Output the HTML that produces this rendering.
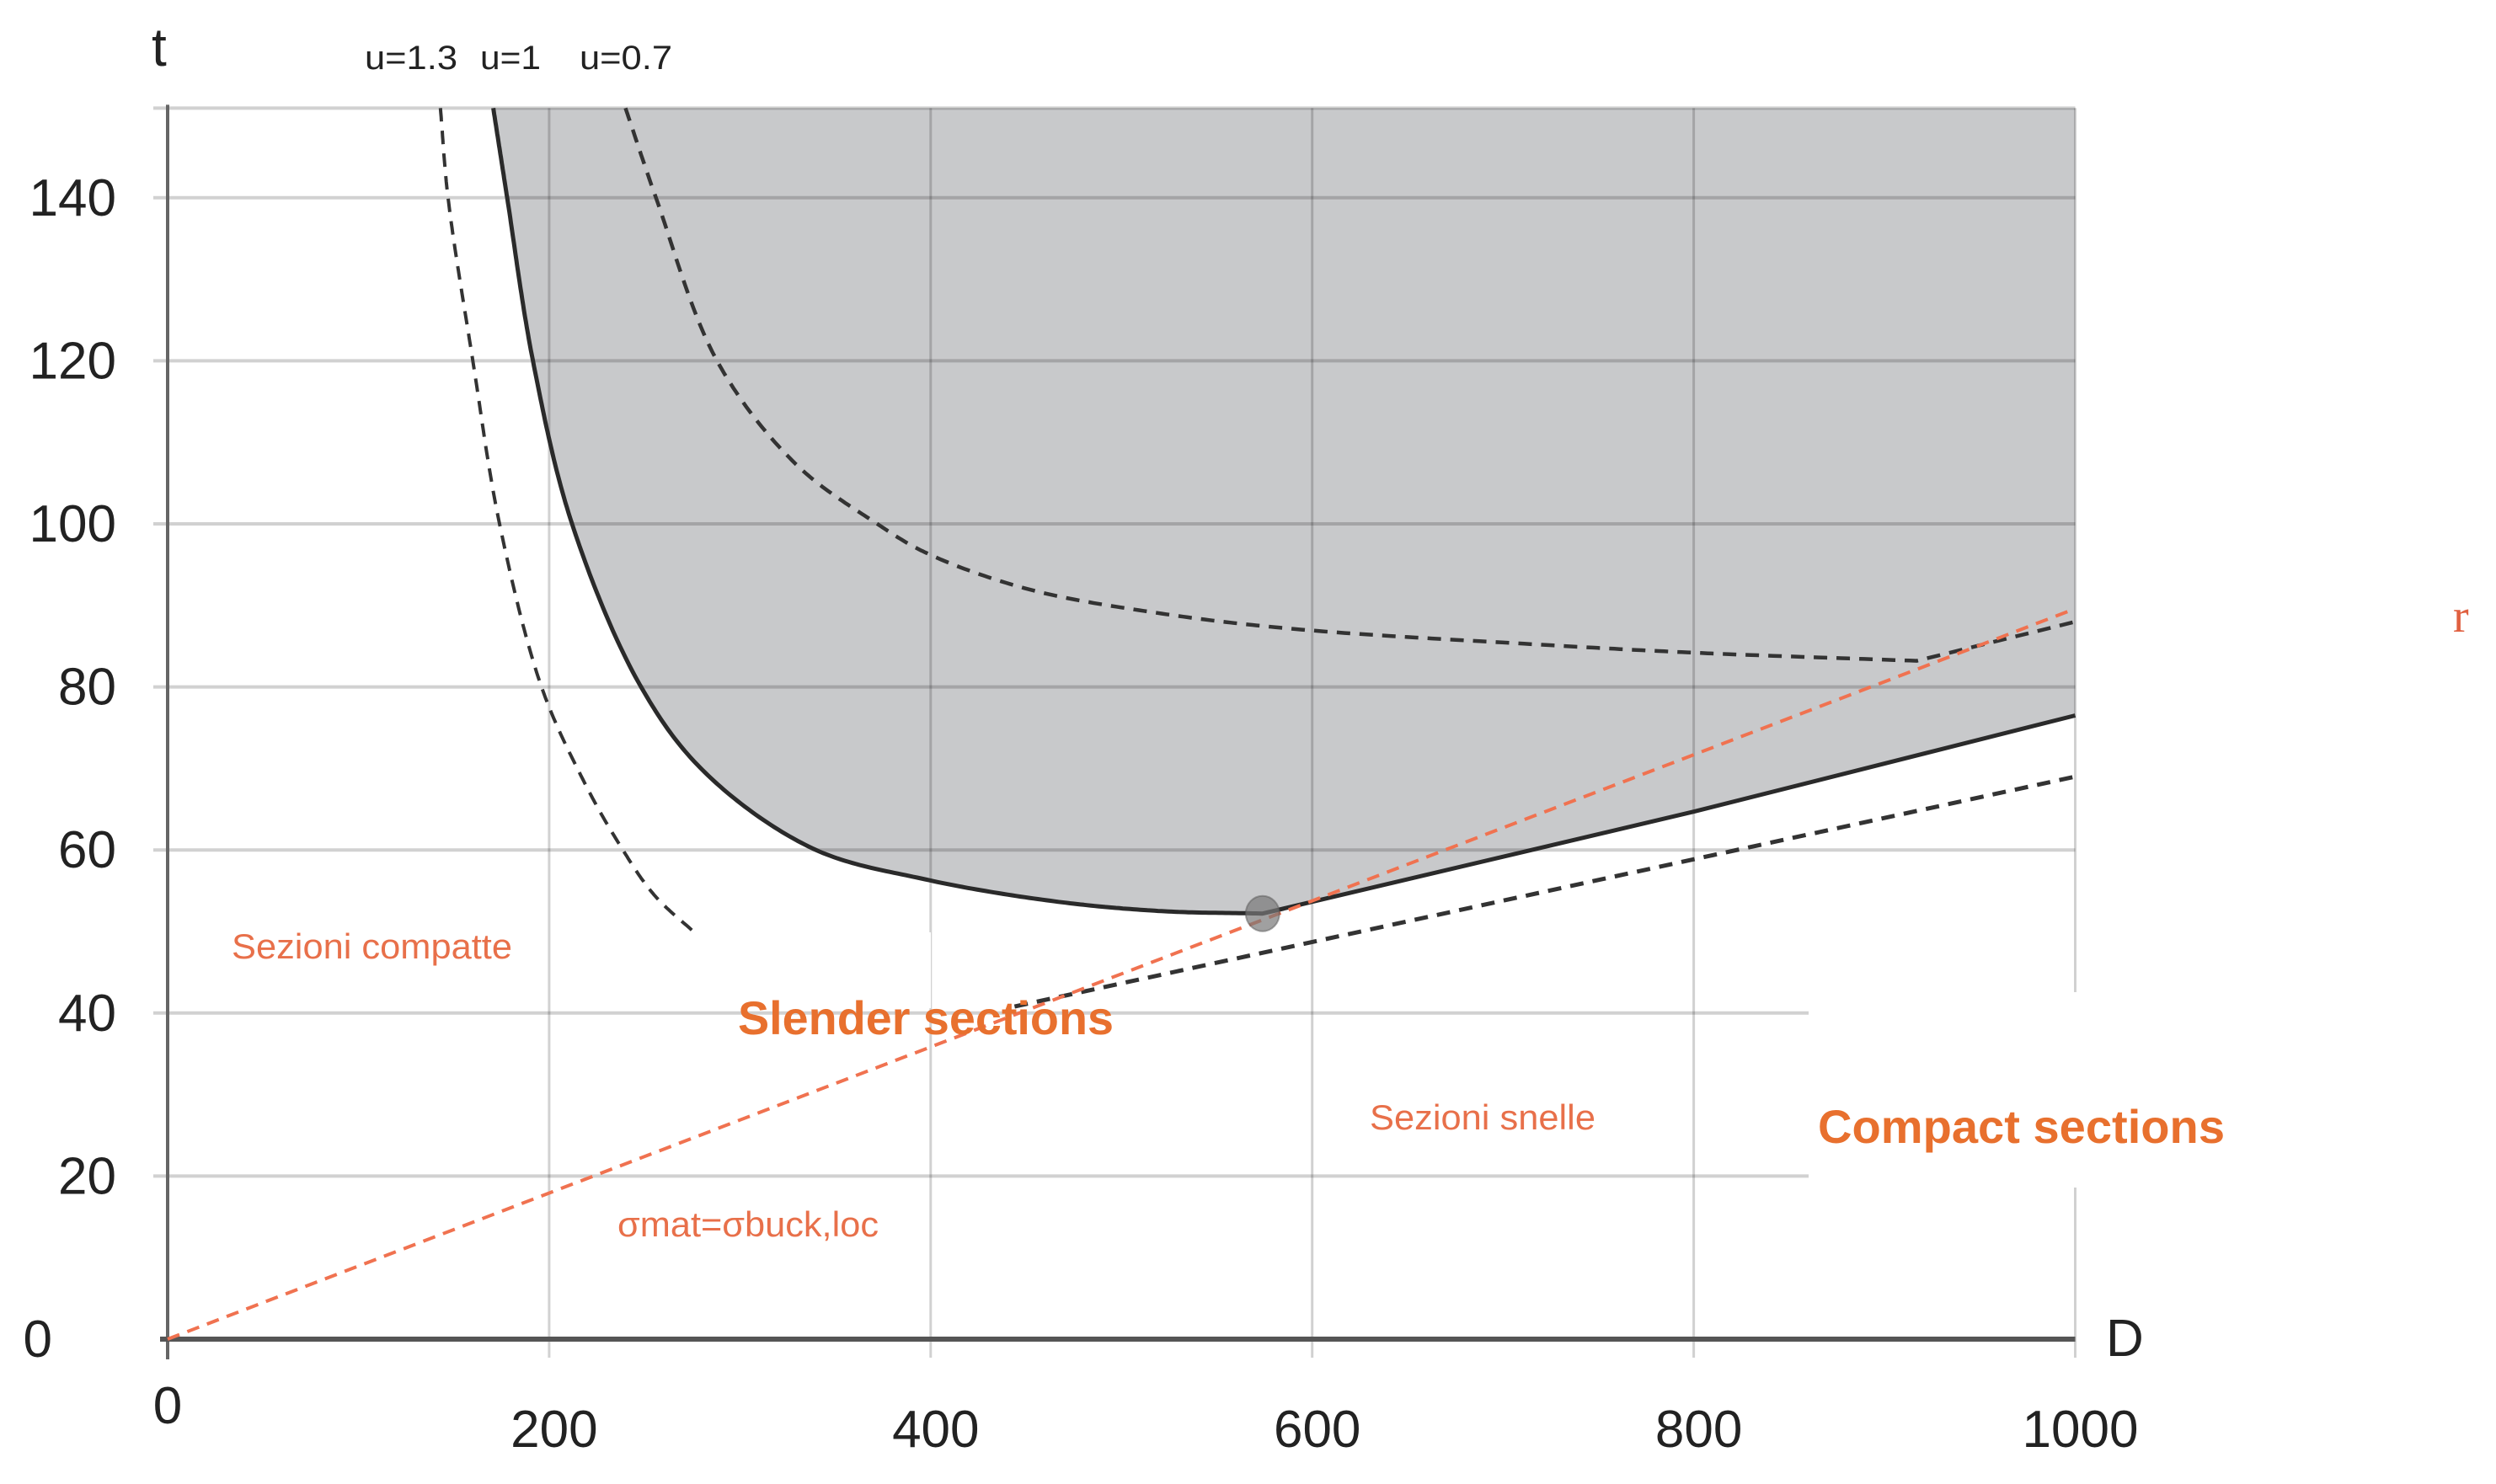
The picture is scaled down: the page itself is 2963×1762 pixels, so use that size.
<!DOCTYPE html>
<html><head><meta charset="utf-8"><style>
html,body{margin:0;padding:0;background:#fff;}
svg{display:block;}
text{font-family:"Liberation Sans",sans-serif;}
.nar{font-family:"Liberation Sans Narrow","Liberation Sans",sans-serif;}
</style></head>
<body>
<svg id="chart" width="2963" height="1762" viewBox="0 0 2963 1762" xmlns="http://www.w3.org/2000/svg">
<g id="g-fill"></g><g id="g-grid"></g><g id="g-box"></g><g id="g-lines"></g><g id="g-text"></g>
</svg>
<script>
const xTicks=[0,200,400,600,800,1000];
const yTicks=[0,20,40,60,80,100,120,140];
const u1D=[170.7,178,191.5,212,247.7,281.7,338,397,465,521,574];
const u1T=[151,140,120,100,80.2,69.5,60.2,56.4,53.7,52.5,52.2];
const u1LineD=[574,800,1000];
const u1LineT=[52.2,64.7,76.5];
const u07D=[240,256,288,329,372,398,451,521,591,711,800,917];
const u07T=[151,140,120,107.4,100,96.4,92,89,87.1,85.3,84.2,83.2];
const u07LineD=[917,1000];
const u07LineT=[83.2,88];
const u13D=[143,147,160,174,196,218,236,255,277];
const u13T=[151,140,120,100,80,68.5,61,54.5,49.7];
const lowD=[444,1000];
const lowT=[40.8,69];
const limD=[0,1000];
const limT=[0,89.6];
const pointD=[574];
const pointT=[52.2];
const tMax=151;

const X0=199,XS=2.2645,Y0=1590,YS=9.68;
function sx(d){return X0+d*XS;}
function sy(t){return Y0-t*YS;}
const NS="http://www.w3.org/2000/svg";
function mk(parent,tag,attrs,txt){const e=document.createElementNS(NS,tag);for(const k in attrs)e.setAttribute(k,attrs[k]);if(txt!==undefined)e.textContent=txt;document.getElementById(parent).appendChild(e);return e;}
function pts(D,T){return D.map((d,i)=>sx(d).toFixed(1)+","+sy(T[i]).toFixed(1));}
function curve(D,T){
  const P=D.map((d,i)=>[sx(d),sy(T[i])]);const n=P.length;
  const ext=[[2*P[0][0]-P[1][0],2*P[0][1]-P[1][1]]].concat(P,[[2*P[n-1][0]-P[n-2][0],2*P[n-1][1]-P[n-2][1]]]);
  const out=[];
  function tj(ti,a,b){return ti+Math.pow(Math.hypot(b[0]-a[0],b[1]-a[1]),0.5);}
  for(let i=1;i<ext.length-2;i++){
    const p0=ext[i-1],p1=ext[i],p2=ext[i+1],p3=ext[i+2];
    const t0=0,t1=tj(t0,p0,p1),t2=tj(t1,p1,p2),t3=tj(t2,p2,p3);
    const N=30;
    for(let k=0;k<N;k++){
      const t=t1+(t2-t1)*k/N;
      const L=(a,b,ta,tb)=>[(tb-t)/(tb-ta)*a[0]+(t-ta)/(tb-ta)*b[0],(tb-t)/(tb-ta)*a[1]+(t-ta)/(tb-ta)*b[1]];
      const A1=L(p0,p1,t0,t1),A2=L(p1,p2,t1,t2),A3=L(p2,p3,t2,t3);
      const B1=L(A1,A2,t0,t2),B2=L(A2,A3,t1,t3);
      const C=L(B1,B2,t1,t2);
      out.push(C[0].toFixed(1)+","+C[1].toFixed(1));
    }
  }
  out.push(P[n-1][0].toFixed(1)+","+P[n-1][1].toFixed(1));
  return out;
}
const u1Pts=curve(u1D,u1T).concat(pts(u1LineD.slice(1),u1LineT.slice(1)));
const fill=mk('g-fill','polygon',{points:u1Pts.join(" ")+" "+sx(1000)+","+sy(tMax),fill:"#c8c9cb"});



yTicks.slice(1).concat([tMax]).forEach(t=>{
  const l=mk('g-grid','line',{x1:182,x2:sx(1000),y1:sy(t),y2:sy(t),stroke:"rgba(0,0,0,0.18)","stroke-width":4});
  
  
});
xTicks.slice(1).forEach(d=>{
  const l=mk('g-grid','line',{x1:sx(d),x2:sx(d),y1:sy(tMax),y2:1612,stroke:"rgba(0,0,0,0.18)","stroke-width":3});
  
  
});
const ya=mk('g-grid','line',{x1:X0,x2:X0,y1:sy(tMax)-4,y2:1614,stroke:"#666","stroke-width":4});


const xa=mk('g-grid','line',{x1:190,x2:sx(1000),y1:sy(0),y2:sy(0),stroke:"#555","stroke-width":6});



const b1=mk('g-box','rect',{x:815,y:1107,width:290,height:90,fill:"#fff"});


const b2=mk('g-box','rect',{x:2147,y:1178,width:520,height:232,fill:"#fff"});



const c13=mk('g-lines','polyline',{points:curve(u13D,u13T).join(" "),fill:"none",stroke:"#333","stroke-width":4,"stroke-dasharray":"16 11"});


const c07=mk('g-lines','polyline',{points:curve(u07D,u07T).concat(pts(u07LineD.slice(1),u07LineT.slice(1))).join(" "),fill:"none",stroke:"#333","stroke-width":4.5,"stroke-dasharray":"16 11"});


const cl=mk('g-lines','polyline',{points:pts(lowD,lowT).join(" "),fill:"none",stroke:"#333","stroke-width":5,"stroke-dasharray":"16 11"});


const c1=mk('g-lines','polyline',{points:u1Pts.join(" "),fill:"none",stroke:"#2a2a2a","stroke-width":5,"stroke-linejoin":"round"});


const cr=mk('g-lines','polyline',{points:pts(limD,limT).join(" "),fill:"none",stroke:"#f07250","stroke-width":4,"stroke-dasharray":"15 10"});


const pt=mk('g-lines','ellipse',{cx:sx(pointD[0]),cy:sy(pointT[0]),rx:20,ry:21,fill:"rgba(120,120,120,0.7)",stroke:"rgba(90,90,90,0.5)","stroke-width":2});



yTicks.forEach(t=>{
  const e=mk('g-text','text',{x:t===0?62:138,y:sy(t)+21,"text-anchor":"end","font-size":62,fill:"#222"},String(t));
  
  
});
xTicks.forEach(d=>{
  const e=mk('g-text','text',{x:d===0?sx(0):sx(d)+6,y:d===0?1690:1718,"text-anchor":"middle","font-size":62,fill:"#222"},String(d));
  
  
});
</script>
<svg style="position:absolute;left:0;top:0" width="2963" height="1762" xmlns="http://www.w3.org/2000/svg">
<text x="180" y="78" font-size="64" fill="#222">t</text>
<text x="2500" y="1610" font-size="62" fill="#222">D</text>
<text class="nar" x="433" y="82" font-size="40" fill="#222" textLength="110" lengthAdjust="spacingAndGlyphs">u=1.3</text>
<text class="nar" x="570" y="82" font-size="40" fill="#222" textLength="72" lengthAdjust="spacingAndGlyphs">u=1</text>
<text class="nar" x="688" y="82" font-size="40" fill="#222" textLength="110" lengthAdjust="spacingAndGlyphs">u=0.7</text>
<text class="nar" x="275" y="1138" font-size="42" fill="#e8704a" textLength="333" lengthAdjust="spacingAndGlyphs">Sezioni compatte</text>
<text class="nar" x="876" y="1228" font-size="56" font-weight="bold" fill="#e8702e" textLength="446" lengthAdjust="spacingAndGlyphs">Slender sections</text>
<text class="nar" x="1626" y="1341" font-size="42" fill="#e8704a" textLength="268" lengthAdjust="spacingAndGlyphs">Sezioni snelle</text>
<text class="nar" x="2158" y="1357" font-size="56" font-weight="bold" fill="#e8702e" textLength="483" lengthAdjust="spacingAndGlyphs">Compact sections</text>
<text class="nar" x="733" y="1468" font-size="42" fill="#e8704a" textLength="310" lengthAdjust="spacingAndGlyphs">σmat=σbuck,loc</text>
<text x="2912" y="750" font-size="56" fill="#e06040" style="font-family:'Liberation Serif',serif">r</text>
</svg>
</body></html>
